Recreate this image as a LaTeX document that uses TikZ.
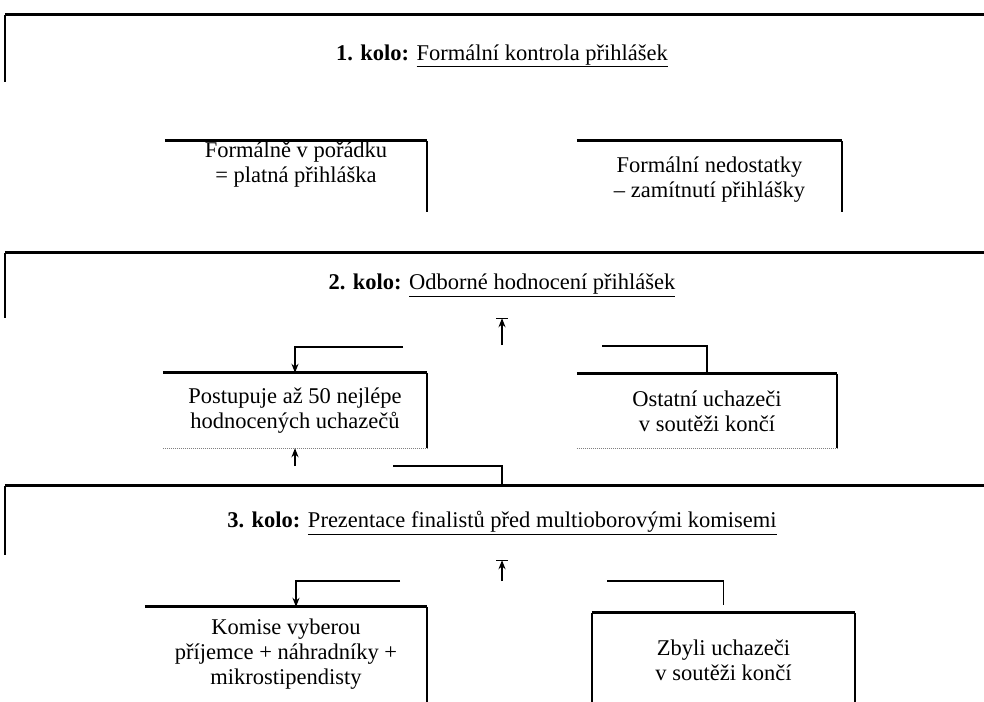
\documentclass[tikz,border=0pt]{standalone}
\usepackage{fontspec}
\setmainfont{Liberation Serif}
\usetikzlibrary{arrows.meta}
\begin{document}
\begin{tikzpicture}[x=1pt, y=-1pt,
    font=\fontsize{22.5}{25}\selectfont,
    kolo/.style={minimum width=994pt, inner sep=0pt},
    box/.style={align=center, inner sep=0pt},
    top/.style={line width=3pt},
    side/.style={line width=1.6pt},
    link/.style={line width=1.4pt},
    tip/.style={-{Stealth[length=9pt, width=7pt]}},
    faint/.style={densely dotted, gray, line width=1pt}]
  \useasboundingbox (0,0) rectangle (984,701);
  \fill[white] (0,0) rectangle (984,701);
  \clip (0,0) rectangle (984,701);

  % 1. kolo
  \node[kolo, minimum height=82pt] (k1) at (502,56) {\textbf{1. kolo:} \underline{Formální kontrola přihlášek}};
  \draw[top] (k1.north west) -- (k1.north east);
  \draw[side] (k1.north west) -- ++(0,67);

  \node[box, minimum width=262pt, minimum height=47pt] (ok) at (296,164.5) {Formálně v pořádku\\= platná přihláška};
  \draw[top] (ok.north west) -- (ok.north east);
  \draw[side] (ok.north east) -- ++(0,71);

  \node[box, minimum width=265pt, minimum height=77pt] (nok) at (709.5,179.5) {Formální nedostatky\\– zamítnutí přihlášky};
  \draw[top] (nok.north west) -- (nok.north east);
  \draw[side] (nok.north east) -- ++(0,71);

  % 2. kolo
  \node[kolo, minimum height=65pt] (k2) at (502,285.5) {\textbf{2. kolo:} \underline{Odborné hodnocení přihlášek}};
  \draw[top] (k2.north west) -- (k2.north east);
  \draw[side] (k2.north west) -- (k2.south west);
  \draw[link] ([xshift=-6pt]k2.south) -- ([xshift=6pt]k2.south);

  \node[box, minimum width=264pt, minimum height=75pt] (adv) at (295,410.5) {Postupuje až 50 nejlépe\\hodnocených uchazečů};
  \draw[top] (adv.north west) -- (adv.north east);
  \draw[side] (adv.north east) -- (adv.south east);
  \draw[faint] (adv.south west) -- (adv.south east);

  \node[box, minimum width=260pt, minimum height=74pt] (rest) at (707,411) {Ostatní uchazeči\\v soutěži končí};
  \draw[top] (rest.north west) -- (rest.north east);
  \draw[side] (rest.north east) -- (rest.south east);
  \draw[faint] (rest.south west) -- (rest.south east);

  \coordinate (s2) at (502,345);
  \coordinate (a2) at (403,347);
  \coordinate (b2) at (602,346);
  \draw[link, tip] (s2) -- (k2.south);
  \draw[link, tip] (a2) -| (adv.north);
  \draw[link] (b2) -| (rest.north);

  \coordinate (d2) at (295,466);
  \coordinate (e2) at (393,466);
  \draw[link, tip] (d2) -- (adv.south);

  % 3. kolo
  \node[kolo, minimum height=74pt] (k3) at (502,523) {\textbf{3. kolo:} \underline{Prezentace finalistů před multioborovými komisemi}};
  \draw[top] (k3.north west) -- (k3.north east);
  \draw[side] (k3.north west) -- ++(0,69);
  \draw[link] ([xshift=-6pt]k3.south) -- ([xshift=6pt]k3.south);
  \draw[link] (e2) -| (k3.north);

  \node[box, minimum width=282pt, minimum height=94pt] (win) at (286,654) {Komise vyberou\\příjemce + náhradníky +\\mikrostipendisty};
  \draw[top] (win.north west) -- (win.north east);
  \draw[side] (win.north east) -- ++(0,100);

  \node[box, minimum width=263pt, minimum height=95pt] (lose) at (723.5,660.5) {Zbyli uchazeči\\v soutěži končí};
  \draw[top] (lose.north west) -- (lose.north east);
  \draw[side] (lose.north west) -- ++(0,100);
  \draw[side] (lose.north east) -- ++(0,100);

  \coordinate (s3) at (502,581);
  \coordinate (a3) at (400,581);
  \coordinate (b3) at (607,581);
  \draw[link, tip] (s3) -- (k3.south);
  \draw[link, tip] (a3) -| ([xshift=10pt]win.north);
  \draw[link] (b3) -| ([yshift=8pt]lose.north);
\end{tikzpicture}
\end{document}
